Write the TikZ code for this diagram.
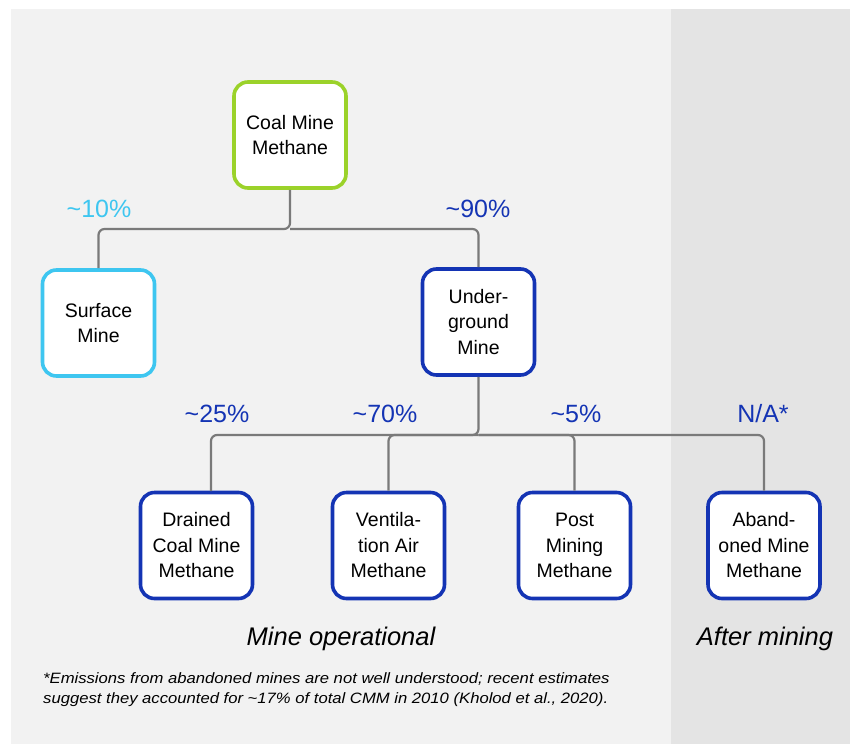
\documentclass[tikz,border=0pt]{standalone}
\usepackage{fontspec}
\setmainfont{Liberation Sans}
\newfontfamily\fnfont[FakeStretch=1.11]{Liberation Sans}
\definecolor{panelA}{HTML}{F2F2F2}
\definecolor{panelB}{HTML}{E4E4E4}
\definecolor{limeC}{HTML}{9BD22A}
\definecolor{skyC}{HTML}{3EC6F0}
\definecolor{navyC}{HTML}{1434B4}
\definecolor{lineC}{HTML}{7A7A7A}
\tikzset{
  box/.style={draw, line width=3.6pt, rounded corners=14pt, fill=white,
    minimum width=112pt, minimum height=106pt, align=center,
    font=\fontsize{19.5}{25.5}\selectfont, text=black, inner sep=0pt},
  conn/.style={draw=lineC, line width=2.2pt, rounded corners=6pt},
  pct/.style={font=\fontsize{25}{26}\selectfont},
  phase/.style={font=\fontsize{25.5}{28}\selectfont\itshape}
}
\begin{document}
\begin{tikzpicture}[x=1pt,y=-1pt]
\useasboundingbox (0,0) rectangle (850,744);
\fill[white] (0,0) rectangle (850,744);
\fill[panelA] (11,9) rectangle (671,744);
\fill[panelB] (671,9) rectangle (850,744);

\node[box, draw=limeC] (cmm) at (290,135) {Coal Mine\\Methane};
\node[box, draw=skyC] (surf) at (98.5,323) {Surface\\Mine};
\node[box, draw=navyC] (ug) at (478.5,322) {Under-\\ground\\Mine};
\node[box, draw=navyC] (dr) at (196.5,545.5) {Drained\\Coal Mine\\Methane};
\node[box, draw=navyC] (va) at (388.5,545.5) {Ventila-\\tion Air\\Methane};
\node[box, draw=navyC] (pm) at (574.5,545.5) {Post\\Mining\\Methane};
\node[box, draw=navyC] (ab) at (764,545.5) {Aband-\\oned Mine\\Methane};

\coordinate (j1) at (290,229);
\coordinate (j2) at (478.5,435);
\coordinate (dtop) at (211,491);

\draw[conn] (cmm.south) -- (j1) -- (j1 -| surf.north) -- (surf.north);
\draw[conn] (j1) -- (j1 -| ug.north) -- (ug.north);
\draw[conn] (ug.south) -- (j2) -- (j2 -| dtop) -- (dtop);
\draw[conn] (j2) -- (j2 -| va.north) -- (va.north);
\draw[conn] (j2) -- (j2 -| pm.north) -- (pm.north);
\draw[conn] (j2) -- (j2 -| ab.north) -- (ab.north);

\node[pct, text=skyC] (p10) at (99,209) {\textasciitilde10\%};
\node[pct, text=navyC] (p90) at (478,209) {\textasciitilde90\%};
\node[pct, text=navyC] (p25) at (217,414) {\textasciitilde25\%};
\node[pct, text=navyC] (p70) at (385,414) {\textasciitilde70\%};
\node[pct, text=navyC] (p5) at (576,414) {\textasciitilde5\%};
\node[pct, text=navyC] (pna) at (763,414) {N/A*};

\node[phase] (op) at (341,639) {Mine operational};
\node[phase] (after) at (765,639) {After mining};

\node[font=\fnfont\fontsize{15}{20}\selectfont\itshape, align=left, anchor=north west, inner sep=0pt] (fn) at (43,672)
 {*Emissions from abandoned mines are not well understood; recent estimates\\
  suggest they accounted for \textasciitilde17\% of total CMM in 2010 (Kholod et al., 2020).};
\end{tikzpicture}
\end{document}
